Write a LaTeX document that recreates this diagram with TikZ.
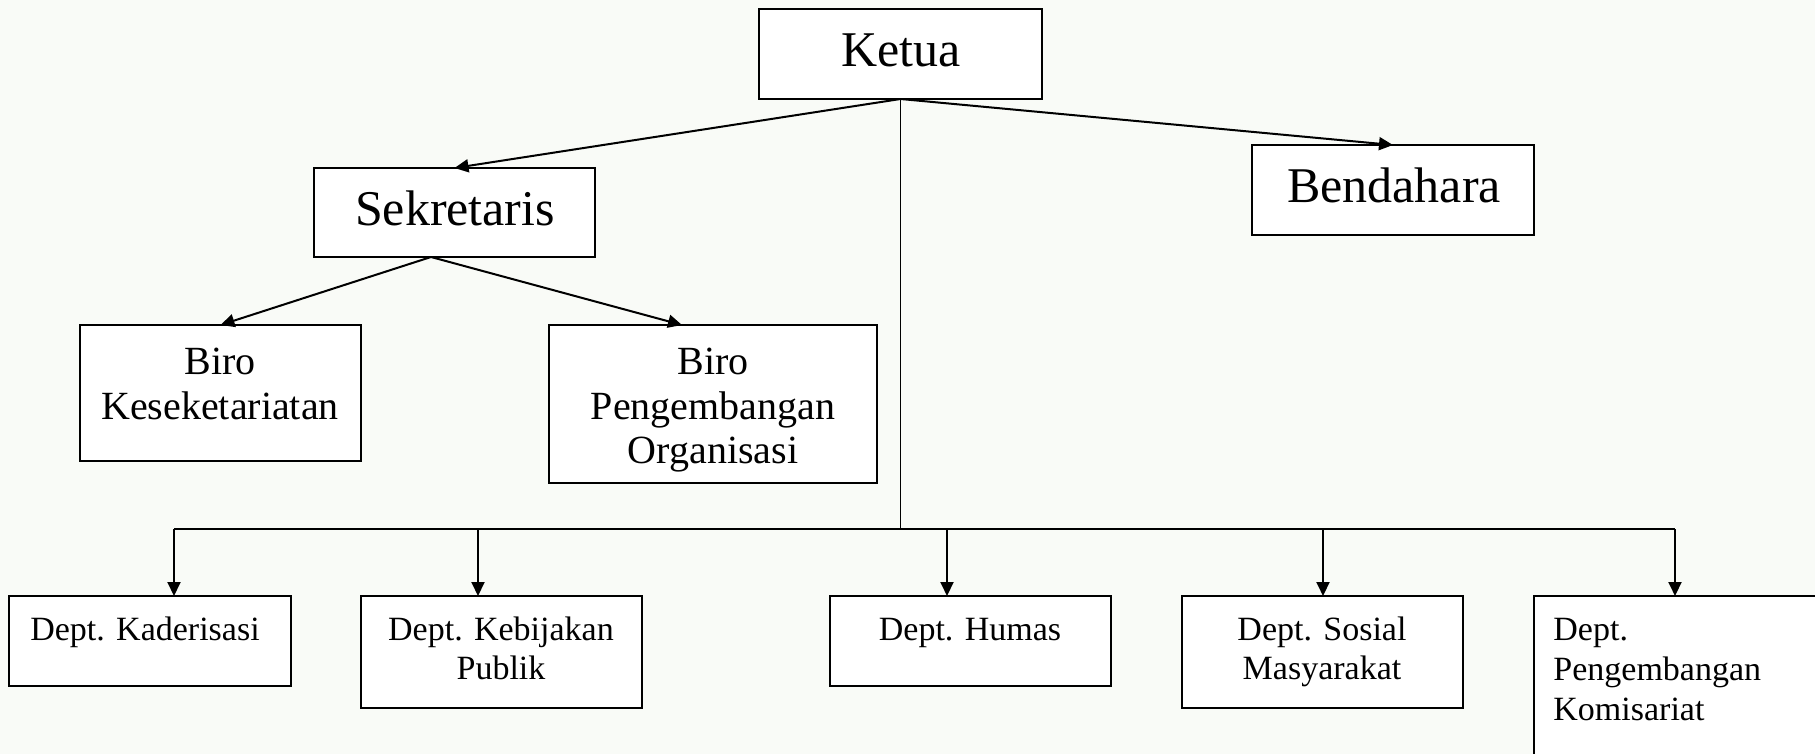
\documentclass[tikz,border=0pt]{standalone}
\usepackage{fontspec}
\setmainfont{Liberation Serif}
\usetikzlibrary{arrows.meta}
\definecolor{bgc}{RGB}{249,251,247}
\tikzset{
  box/.style={draw=black, line width=1pt, fill=white, inner sep=0pt, outer sep=0pt},
  conn/.style={line width=1pt, -{Triangle[length=7pt,width=6.5pt]}},
  trunk/.style={line width=0.7pt},
  big/.style={font=\fontsize{25}{30}\selectfont, inner sep=0pt, anchor=base},
  mid/.style={font=\fontsize{20}{24}\selectfont, inner sep=0pt, anchor=base},
  small/.style={font=\fontsize{17}{20}\selectfont, inner sep=0pt, anchor=base},
}
\begin{document}
\begin{tikzpicture}[x=0.5pt, y=-0.5pt]
\clip (0,0) rectangle (1815,754);
\fill[bgc] (0,0) rectangle (1815,754);
\useasboundingbox (0,0) rectangle (1815,754);
% boxes
\node[box, minimum width=141.5pt, minimum height=45pt] (ketua) at (900.5,54) {};
\node[box, minimum width=140.5pt, minimum height=44.5pt] (sek) at (454.5,212.5) {};
\node[box, minimum width=141pt, minimum height=45pt] (bend) at (1393,190) {};
\node[box, minimum width=140.5pt, minimum height=68pt] (birok) at (220.5,393) {};
\node[box, minimum width=164pt, minimum height=79pt] (birop) at (713,404) {};
\node[box, minimum width=141pt, minimum height=45pt] (kad) at (150,641) {};
\node[box, minimum width=140.5pt, minimum height=56pt] (keb) at (501.5,652) {};
\node[box, minimum width=140.5pt, minimum height=45pt] (hum) at (970.5,641) {};
\node[box, minimum width=140.5pt, minimum height=56pt] (sos) at (1322.5,652) {};
\node[box, minimum width=141pt, minimum height=92pt] (kom) at (1675,688) {};
% texts
\node[big] (ketuaT) at (901,67) {Ketua};
\node[big] (sekT) at (455,226) {Sekretaris};
\node[big] (bendT) at (1394,203) {Bendahara};
\node[mid] (birokT1) at (220,374) {Biro};
\node[mid] (birokT2) at (220,419) {Keseketariatan};
\node[mid] (biropT1) at (713,374) {Biro};
\node[mid] (biropT2) at (713,419) {Pengembangan};
\node[mid] (biropT3) at (713,463) {Organisasi};
\node[small] (kadT) at (145,640) {Dept. Kaderisasi};
\node[small] (kebT1) at (501,640) {Dept. Kebijakan};
\node[small] (kebT2) at (501,679) {Publik};
\node[small] (humT) at (970,640) {Dept. Humas};
\node[small] (sosT1) at (1322,640) {Dept. Sosial};
\node[small] (sosT2) at (1322,679) {Masyarakat};
\node[small, anchor=base west] (komT1) at (1553,640) {Dept.};
\node[small, anchor=base west] (komT2) at (1553,680) {Pengembangan};
\node[small, anchor=base west] (komT3) at (1553,720) {Komisariat};
% connector points
\coordinate (sekout) at (431,257);
\coordinate (biropin) at (682,325);
\coordinate (bus) at (900.5,529);
\coordinate (t1) at (174,596);
\coordinate (t2) at (478,596);
\coordinate (t3) at (947,596);
\coordinate (t4) at (1323,596);
\coordinate (t5) at (1675,596);
% connectors
\draw[conn] (ketua.south) -- (sek.north);
\draw[conn] (ketua.south) -- (bend.north);
\draw[conn] (sekout) -- (birok.north);
\draw[conn] (sekout) -- (biropin);
\draw[trunk] (ketua.south) -- (bus);
\draw[line width=1pt] (t1 |- bus) -- (t5 |- bus);
\draw[conn] (t1 |- bus) -- (t1);
\draw[conn] (t2 |- bus) -- (t2);
\draw[conn] (t3 |- bus) -- (t3);
\draw[conn] (t4 |- bus) -- (t4);
\draw[conn] (t5 |- bus) -- (t5);
\end{tikzpicture}
\end{document}
